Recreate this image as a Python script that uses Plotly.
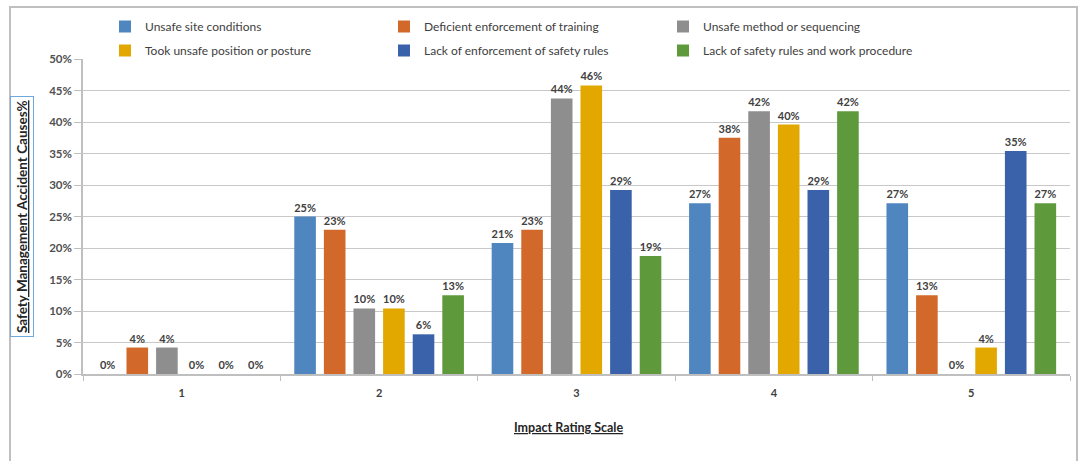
import plotly.graph_objects as go

categories = ["1", "2", "3", "4", "5"]
series_names = [
    "Unsafe site conditions",
    "Deficient enforcement of training",
    "Unsafe method or sequencing",
    "Took unsafe position or posture",
    "Lack of enforcement of safety rules",
    "Lack of safety rules and work procedure",
]
unsafe_site = [0.0, 0.25, 0.208, 0.271, 0.271]
deficient_training = [0.042, 0.229, 0.229, 0.375, 0.125]
unsafe_method = [0.042, 0.104, 0.4375, 0.417, 0.0]
unsafe_posture = [0.0, 0.104, 0.458, 0.396, 0.042]
lack_enforcement = [0.0, 0.063, 0.292, 0.292, 0.354]
lack_rules = [0.0, 0.125, 0.1875, 0.417, 0.271]
values = [unsafe_site, deficient_training, unsafe_method, unsafe_posture, lack_enforcement, lack_rules]
colors = ["#4F86C0", "#D2692A", "#8E8E8E", "#E2A800", "#3A62AA", "#5E9A3C"]
legend_ids = ["legend", "legend", "legend", "legend2", "legend2", "legend2"]
y_ticks = [0, 0.05, 0.10, 0.15, 0.20, 0.25, 0.30, 0.35, 0.40, 0.45, 0.50]

FONT = "Lato"
W, H = 1079, 461
L, R, T, B = 83, 9, 59, 87
pw, ph = W - L - R, H - T - B

def px_x(p):
    return (p - L) / pw

def px_y(p):
    return (H - B - p) / ph

fig = go.Figure()
for name, vals, col, lg in zip(series_names, values, colors, legend_ids):
    fig.add_trace(go.Bar(
        x=categories, y=vals, name=name, legend=lg,
        marker=dict(color=col, line=dict(width=0)),
        text=vals, texttemplate="%{y:.0%}", textposition="outside",
        constraintext="none", cliponaxis=False,
        textfont=dict(family=FONT, size=11, color="#404040", weight="bold"),
    ))

legend_common = dict(
    orientation="h", xanchor="left", yanchor="top",
    entrywidth=234, entrywidthmode="pixels",
    font=dict(family=FONT, size=12, color="#404040"),
    itemwidth=30, bgcolor="rgba(0,0,0,0)", traceorder="normal",
)

fig.update_layout(
    width=W, height=H,
    margin=dict(l=L, r=R, t=T, b=B, autoexpand=False),
    paper_bgcolor="white", plot_bgcolor="white",
    barmode="group", bargap=0.10, bargroupgap=0.27,
    font=dict(family=FONT, size=11, color="#404040"),
    showlegend=True,
    legend=dict(x=px_x(105), y=px_y(12), **legend_common),
    legend2=dict(x=px_x(105), y=px_y(36), **legend_common),
    xaxis=dict(
        type="category", showgrid=False, showline=True, linecolor="#BFBFBF", linewidth=1.5,
        ticks="outside", tickson="boundaries", ticklen=5, tickcolor="#BFBFBF",
        ticklabelstandoff=8,
        tickfont=dict(family=FONT, size=11, color="#404040", weight="bold"),
    ),
    yaxis=dict(
        range=[0, 0.5], tickvals=y_ticks, tickformat=".0%",
        showgrid=True, gridcolor="#C8C8C8", gridwidth=1,
        showline=True, linecolor="#BFBFBF", linewidth=1.5,
        ticks="outside", ticklen=7, tickcolor="#BFBFBF",
        tickfont=dict(family=FONT, size=11.5, color="#505050", weight="bold"),
        zeroline=False,
    ),
    shapes=[dict(
        type="rect", xref="paper", yref="paper",
        x0=px_x(10), x1=px_x(1077), y0=px_y(470), y1=px_y(7),
        line=dict(color="#BFBFBF", width=2), fillcolor="rgba(0,0,0,0)", layer="below",
    )],
    annotations=[
        dict(
            text="<b><u>Safety Management Accident Causes%</u></b>",
            xref="paper", yref="paper", x=px_x(22), y=px_y(217),
            xanchor="center", yanchor="middle", textangle=-90, showarrow=False,
            font=dict(family=FONT, size=13.5, color="#262626"),
            bordercolor="#6FA8DC", borderwidth=1, borderpad=3,
        ),
        dict(
            text="<b><u>Impact Rating Scale</u></b>",
            xref="paper", yref="paper", x=px_x(568), y=px_y(427),
            xanchor="center", yanchor="middle", showarrow=False,
            font=dict(family=FONT, size=12.5, color="#262626"),
        ),
    ],
)

fig.write_html("out.html", config={"displayModeBar": False},
               post_script="document.body.style.margin='0';")
